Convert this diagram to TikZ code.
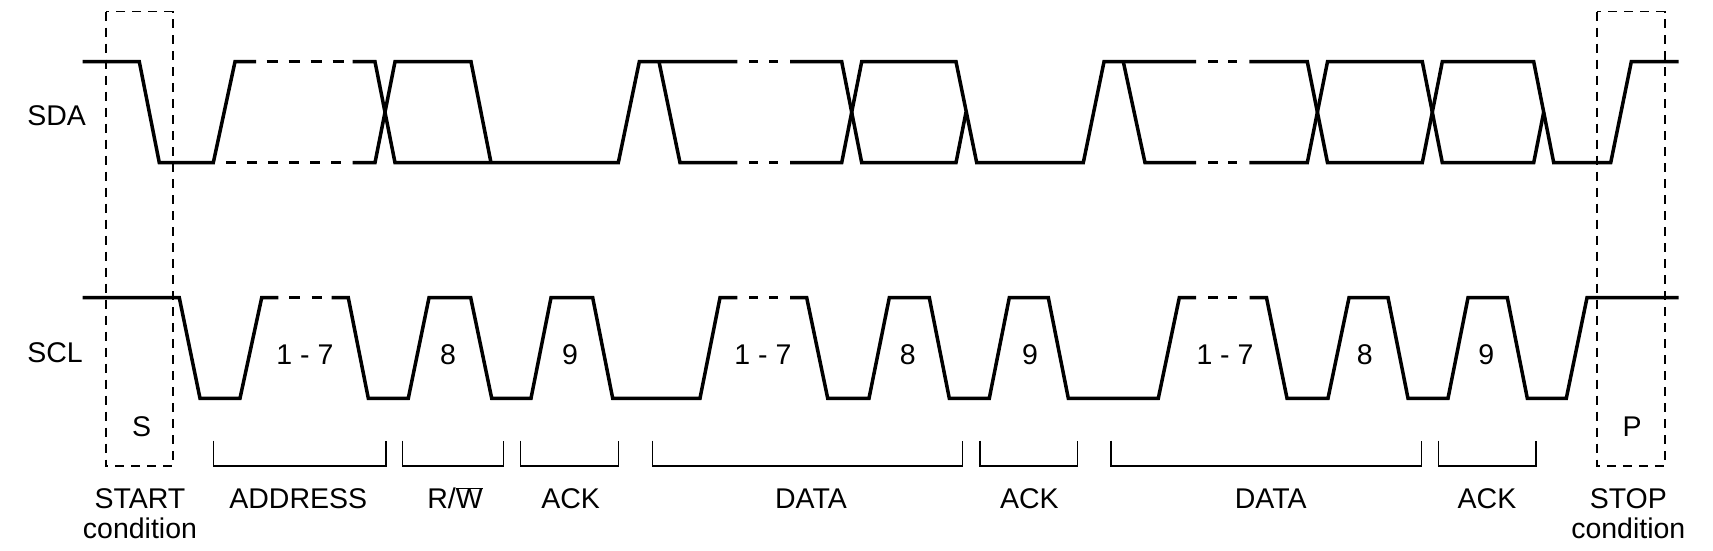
\documentclass[tikz,border=0pt]{standalone}
\usepackage{fontspec}
\setmainfont{Liberation Sans}
\begin{document}
\begin{tikzpicture}[x=1pt,y=-1pt,
  sig/.style={line width=3.5pt,line join=miter},
  brk/.style={line width=1.3pt},
  cbox/.style={line width=1.8pt,dash pattern=on 9pt off 7pt},
  lbl/.style={font=\fontsize{28.5}{31}\selectfont,inner sep=0pt,anchor=center}]
\useasboundingbox (0,0) rectangle (1713,551);
\def\H{61.7}\def\L{162.7}\def\M{112.2}
\def\h{297.7}\def\l{398.3}
% ---------- SDA ----------
\draw[sig] (82.7,\H)--(139.3,\H)--(159.3,\L)--(213.3,\L)--(235,\H)--(256,\H);
\draw[sig,dash pattern=on 11pt off 11pt] (266.7,\H)--(344,\H);
\draw[sig,dash pattern=on 10pt off 11pt] (226,\L)--(344,\L);
\draw[sig] (352.7,\H)--(375,\H)--(395,\L)--(618.3,\L)--(639.3,\H)--(737.3,\H);
\draw[sig] (352.7,\L)--(375,\L)--(395,\H)--(471,\H)--(491,\L);
\draw[sig] (659,\H)--(680,\L)--(737.3,\L);
\foreach \y in {\H,\L}{
  \draw[sig] (749,\y)--(758.3,\y); \draw[sig] (769,\y)--(778.3,\y);
  \draw[sig] (1208.3,\y)--(1218.3,\y); \draw[sig] (1228.3,\y)--(1237.3,\y);}
\draw[sig] (790,\H)--(841.7,\H)--(861.7,\L)--(956,\L)--(966,\M);
\draw[sig] (790,\L)--(841.7,\L)--(861.7,\H)--(956,\H)--(976.7,\L)--(1083.3,\L)--(1104,\H)--(1196,\H);
\draw[sig] (1123.3,\H)--(1145,\L)--(1196,\L);
\draw[sig] (1249.3,\H)--(1307.3,\H)--(1327.5,\L)--(1422.3,\L)--(1442.3,\H)--(1533.7,\H)--(1553.7,\L)--(1610.7,\L)--(1631.3,\H)--(1678.7,\H);
\draw[sig] (1249.3,\L)--(1307.3,\L)--(1327.5,\H)--(1422.3,\H)--(1442.3,\L)--(1533.7,\L)--(1543.7,\M);
% ---------- SCL ----------
\draw[sig] (82.7,\h)--(179.3,\h)--(200,\l)--(240,\l)--(261.7,\h)--(278.3,\h);
\draw[sig] (289.3,\h)--(300,\h); \draw[sig] (311.7,\h)--(322,\h);
\draw[sig] (331.7,\h)--(348.3,\h)--(368.3,\l)--(408.3,\l)--(429,\h)--(470.7,\h)--(491.7,\l)--(531,\l)--(551,\h)--(592.7,\h)--(612.7,\l)--(700,\l)--(720,\h)--(737.3,\h);
\draw[sig] (749,\h)--(758.3,\h); \draw[sig] (769,\h)--(778.3,\h);
\draw[sig] (790,\h)--(806.7,\h)--(827.7,\l)--(869,\l)--(889.3,\h)--(929.3,\h)--(949.3,\l)--(989.3,\l)--(1009.3,\h)--(1048.3,\h)--(1068.3,\l)--(1158.3,\l)--(1179.3,\h)--(1196,\h);
\draw[sig] (1208.3,\h)--(1218.3,\h); \draw[sig] (1228.3,\h)--(1237.3,\h);
\draw[sig] (1249.7,\h)--(1266.5,\h)--(1287,\l)--(1328,\l)--(1349,\h)--(1388,\h)--(1408,\l)--(1448,\l)--(1468,\h)--(1507.3,\h)--(1527.3,\l)--(1566.3,\l)--(1587,\h)--(1678.7,\h);
% ---------- condition boxes ----------
\draw[cbox] (105.7,11.6) rectangle (173,466);
\draw[cbox] (1597.3,11.6) rectangle (1664.7,466);
% ---------- brackets ----------
\foreach \a/\b in {213.3/386,402.7/503.3,520.7/618.3,652.3/962.7,980/1077.3,1111/1421.7,1438.3/1536}
  \draw[brk] (\a,440.7)--(\a,466)--(\b,466)--(\b,440.7);
% ---------- labels ----------
\node[lbl] (sda) at (56.7,116) {SDA};
\node[lbl] (scl) at (55,353) {SCL};
\node[lbl] (n1) at (305,355) {1 - 7};
\node[lbl] (n2) at (448,355) {8};
\node[lbl] (n3) at (570,355) {9};
\node[lbl] (n4) at (763,355) {1 - 7};
\node[lbl] (n5) at (907.7,355) {8};
\node[lbl] (n6) at (1030,355) {9};
\node[lbl] (n7) at (1225,355) {1 - 7};
\node[lbl] (n8) at (1364.7,355) {8};
\node[lbl] (n9) at (1486.3,355) {9};
\node[lbl] (s) at (141.7,427) {S};
\node[lbl] (p) at (1632,427) {P};
\node[lbl] (start) at (140,498.3) {START};
\node[lbl] (startc) at (140,528.3) {condition};
\node[lbl] (stop) at (1628.3,498.3) {STOP};
\node[lbl] (stopc) at (1628.3,528.3) {condition};
\node[lbl] (addr) at (298.3,498.3) {ADDRESS};
\node[lbl] (rw) at (455,498.3) {R/$\overline{\mbox{W}}$};
\node[lbl] (ack1) at (570.7,498.3) {ACK};
\node[lbl] (data1) at (811,498.3) {DATA};
\node[lbl] (ack2) at (1029.3,498.3) {ACK};
\node[lbl] (data2) at (1270.7,498.3) {DATA};
\node[lbl] (ack3) at (1487,498.3) {ACK};
\end{tikzpicture}
\end{document}
